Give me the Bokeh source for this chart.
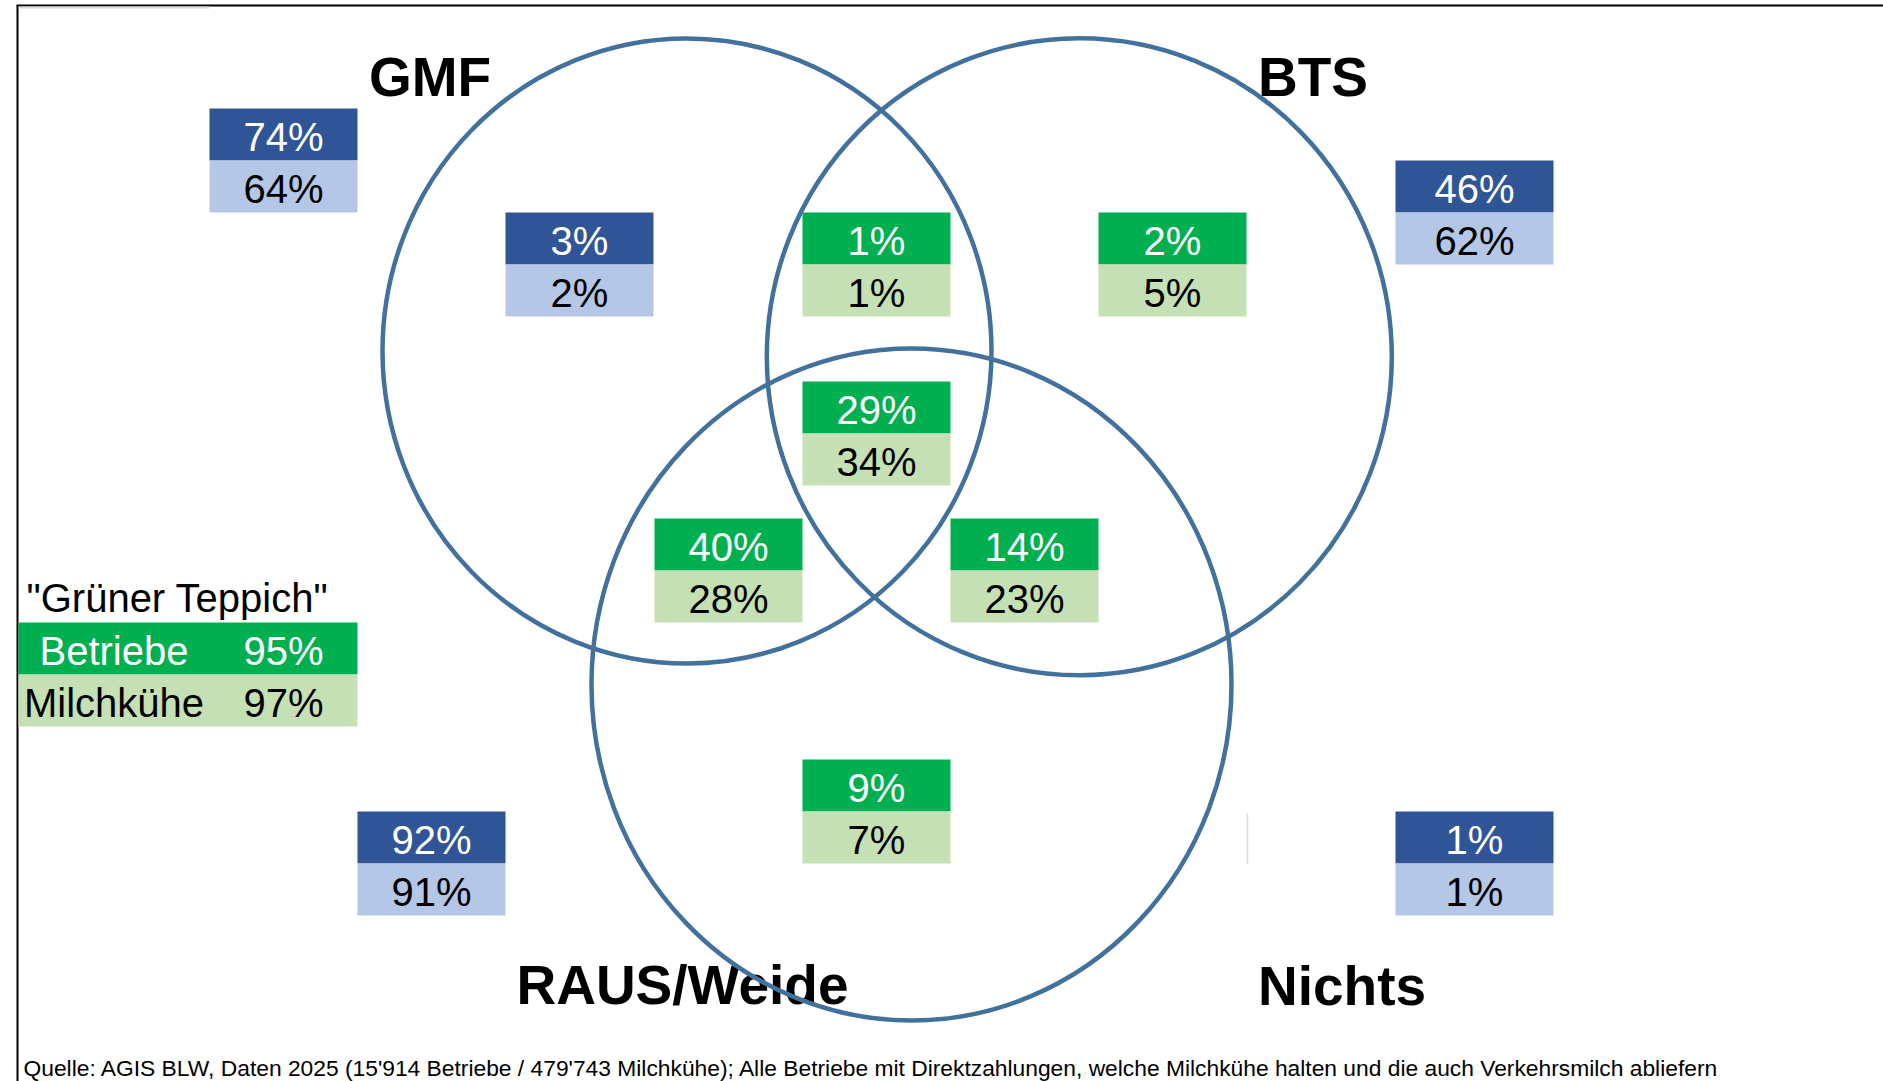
from bokeh.plotting import figure
from bokeh.models import Range1d
from bokeh.core.properties import value
from bokeh.embed import file_html
from bokeh.resources import INLINE

# ---------------- data ----------------
set_labels = ["GMF", "BTS", "RAUS/Weide", "Nichts"]
total_betriebe = [74, 46, 92, 1]          # share of farms per programme (outside boxes)
total_milchkuehe = [64, 62, 91, 1]        # share of dairy cows per programme

region_names = ["nur GMF", "GMF+BTS", "nur BTS", "GMF+BTS+RAUS", "GMF+RAUS", "BTS+RAUS", "nur RAUS"]
region_betriebe = [3, 1, 2, 29, 40, 14, 9]
region_milchkuehe = [2, 1, 5, 34, 28, 23, 7]
region_gruen = [False, True, True, True, True, True, True]

teppich_title = '"Grüner Teppich"'
teppich_labels = ["Betriebe", "Milchkühe"]
teppich_values = [95, 97]

source_note = ("Quelle: AGIS BLW, Daten 2025 (15'914 Betriebe / 479'743 Milchkühe); "
               "Alle Betriebe mit Direktzahlungen, welche Milchkühe halten und die auch "
               "Verkehrsmilch abliefern")

# ---------------- layout / style ----------------
W, H = 1883, 1081
FONT = value("Liberation Sans")
DARK_BLUE, LIGHT_BLUE = "#2F5597", "#B4C7E7"
GREEN, LIGHT_GREEN = "#00B050", "#C5E0B4"
CIRCLE = "#41719C"
ROW = 52
BASE = 43.5
ADJ = 0.37  # baseline correction factor (fraction of font size)

total_pos = [(209, 108, 148), (1395, 160, 158), (357, 811, 148), (1395, 811, 158)]
region_pos = [(505, 212), (802, 212), (1098, 212), (802, 381), (654, 518), (950, 518), (802, 759)]
label_pos = [(429.5, 96.5), (1312.5, 96.5), (682, 1005), (1341.5, 1006)]
circles = [(686.5, 350.5, 609, 625), (1078.8, 356.3, 625, 637), (911, 684, 640, 672)]

p = figure(width=W, height=H, x_range=Range1d(0, W), y_range=Range1d(H, 0),
           x_axis_type=None, y_axis_type=None, toolbar_location=None,
           output_backend="svg", min_border=0)
p.outline_line_color = None
p.background_fill_color = "white"
p.border_fill_color = "white"


def put_text(x, baseline, s, size, color="black", align="center", bold=False):
    p.text(x=[x], y=[baseline - ADJ * size], text=[s], text_align=align,
           text_baseline="alphabetic", text_font=FONT,
           text_font_size=value(f"{size}px"),
           text_font_style="bold" if bold else "normal", text_color=color)


# frame lines
p.segment(x0=[16], y0=[5], x1=[W], y1=[5], line_color="black", line_width=2)
p.segment(x0=[17], y0=[5], x1=[17], y1=[H], line_color="black", line_width=2)
p.segment(x0=[18], y0=[7], x1=[209], y1=[7], line_color="#DADADA", line_width=2)
p.segment(x0=[1247], y0=[813], x1=[1247], y1=[864], line_color="#D9D9D9", line_width=1.5)


def two_cell(left, top, width, top_val, bot_val, top_fill, bot_fill):
    p.quad(left=[left], right=[left + width], top=[top], bottom=[top + ROW],
           fill_color=top_fill, line_color=None)
    p.quad(left=[left], right=[left + width], top=[top + ROW], bottom=[top + 2 * ROW],
           fill_color=bot_fill, line_color=None)
    cx = left + width / 2
    put_text(cx, top + BASE, f"{top_val}%", 40, "white")
    put_text(cx, top + ROW + BASE, f"{bot_val}%", 40, "black")


for (l, t, w), b, m in zip(total_pos, total_betriebe, total_milchkuehe):
    two_cell(l, t, w, b, m, DARK_BLUE, LIGHT_BLUE)

for (l, t), b, m, g in zip(region_pos, region_betriebe, region_milchkuehe, region_gruen):
    if g:
        two_cell(l, t, 148, b, m, GREEN, LIGHT_GREEN)
    else:
        two_cell(l, t, 148, b, m, DARK_BLUE, LIGHT_BLUE)

# Grüner Teppich summary
put_text(26, 612, teppich_title, 40, "black", align="left")
gt_fills = [GREEN, LIGHT_GREEN]
gt_colors = ["white", "black"]
for i, (lab, val) in enumerate(zip(teppich_labels, teppich_values)):
    top = 622 + i * ROW
    p.quad(left=[18], right=[357], top=[top], bottom=[top + ROW], fill_color=gt_fills[i], line_color=None)
    put_text(113.5, top + BASE, lab, 40, gt_colors[i])
    put_text(283, top + BASE, f"{val}%", 40, gt_colors[i])

# set labels
for (x, y), lab in zip(label_pos, set_labels):
    put_text(x, y, lab, 55, "black", bold=True)

# circles
for cx, cy, w, h in circles:
    p.ellipse(x=[cx], y=[cy], width=[w], height=[h], fill_color=None,
              line_color=CIRCLE, line_width=4.5)

# footer
put_text(23, 1076, source_note, 22.8, "black", align="left")

open("out.html", "w").write(file_html(p, INLINE))
